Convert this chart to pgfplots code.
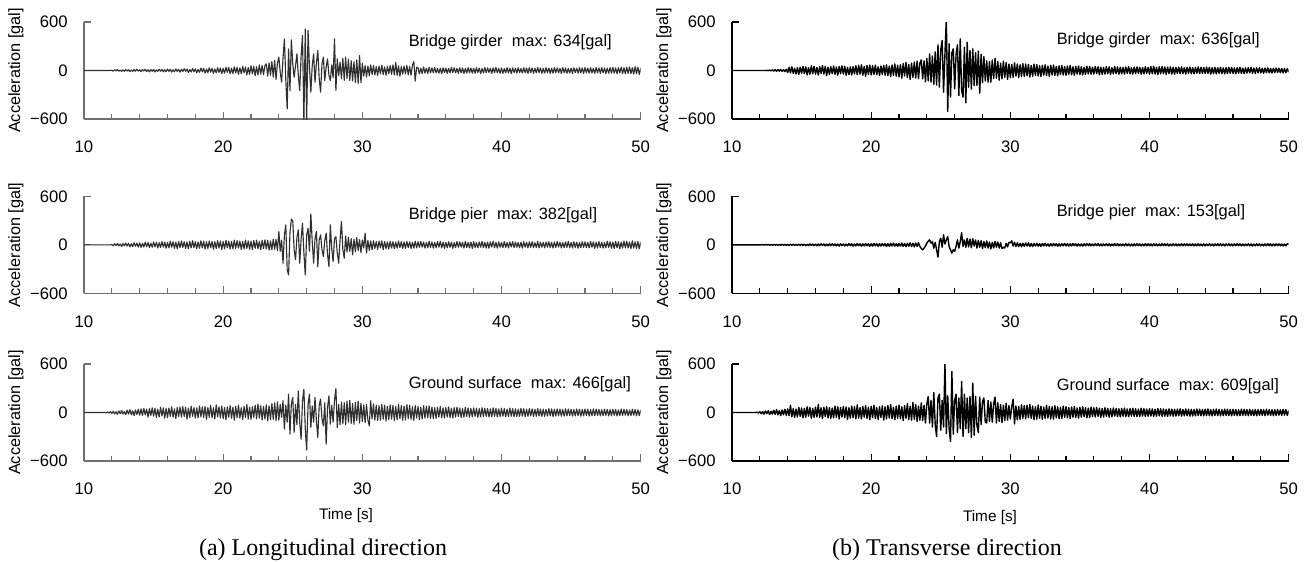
\documentclass[border=0pt]{standalone}
\usepackage{fontspec}
\setmainfont{Liberation Sans}
\newfontfamily\capfont{Liberation Serif}
\usepackage{pgfplots}
\usepackage{pgfplotstable}
\pgfplotsset{compat=1.18}

\definecolor{trL}{HTML}{303030}
\definecolor{axL}{HTML}{707070}

% acceleration records, sampled every 0.1 s from t = 10 s to 50 s
% longitudinal: girder, pier, ground surface
\pgfplotstableread[row sep=\\]{
a\\
0\\0\\0\\0\\0\\0\\0\\0\\0\\0\\
0\\0\\0\\0\\0\\0\\0\\0\\0\\0\\
3\\-8\\10\\-6\\12\\-9\\5\\-12\\8\\-10\\
12\\-7\\9\\-14\\6\\-11\\13\\-9\\15\\-8\\
10\\-15\\12\\-6\\16\\-13\\9\\-17\\11\\-10\\
14\\-18\\8\\-12\\17\\-9\\13\\-16\\10\\-14\\
18\\-11\\15\\-20\\9\\-16\\19\\-12\\14\\-21\\
16\\-13\\22\\-10\\18\\-24\\12\\-19\\25\\-15\\
20\\-28\\14\\-22\\30\\-17\\25\\-31\\19\\-26\\
33\\-21\\27\\-35\\18\\-29\\36\\-24\\31\\-38\\
25\\-33\\40\\-22\\36\\-41\\28\\-37\\45\\-30\\
38\\-47\\33\\-40\\52\\-29\\44\\-55\\36\\-48\\
58\\-42\\50\\-63\\47\\-56\\70\\-45\\61\\-52\\
60\\82\\-70\\95\\-60\\110\\-82\\125\\-110\\90\\
165\\-20\\-144\\150\\392\\-120\\-474\\268\\-247\\379\\
80\\-82\\60\\206\\-60\\-247\\180\\433\\-634\\515\\
-634\\495\\40\\-268\\60\\206\\-144\\90\\247\\-100\\
-268\\80\\165\\-124\\40\\144\\-60\\-124\\70\\-90\\
392\\-247\\144\\-60\\100\\-103\\150\\-120\\165\\-100\\
140\\-124\\120\\-130\\110\\-150\\130\\-160\\185\\-150\\
90\\-70\\60\\-80\\55\\-65\\70\\-50\\62\\-55\\
48\\-60\\55\\-42\\66\\-50\\45\\-58\\52\\-40\\
60\\-48\\70\\-55\\100\\-62\\58\\-70\\50\\-45\\
55\\-40\\62\\-52\\48\\-58\\66\\110\\-130\\40\\
35\\-42\\30\\-38\\44\\-33\\28\\-36\\40\\-30\\
32\\-27\\36\\-30\\25\\-34\\29\\-38\\33\\-26\\
30\\-35\\27\\-31\\38\\-24\\33\\-29\\26\\-36\\
34\\-28\\31\\-37\\24\\-32\\36\\-27\\30\\-33\\
27\\-34\\35\\-26\\30\\-38\\25\\-31\\37\\-29\\
33\\-25\\28\\-35\\32\\-27\\38\\-30\\26\\-34\\
31\\-36\\25\\-29\\35\\-32\\28\\-37\\33\\-26\\
29\\-33\\36\\-27\\24\\-31\\34\\-28\\30\\-35\\
35\\-26\\31\\-34\\27\\-30\\37\\-25\\32\\-36\\
26\\-32\\34\\-29\\30\\-36\\28\\-33\\35\\-27\\
33\\-30\\27\\-35\\36\\-28\\31\\-34\\25\\-31\\
30\\-37\\34\\-26\\28\\-32\\35\\-29\\32\\-36\\
36\\-28\\29\\-33\\34\\-31\\27\\-35\\38\\-30\\
31\\-35\\37\\-29\\33\\-38\\30\\-34\\36\\-32\\
38\\-33\\32\\-40\\36\\-31\\41\\-37\\34\\-42\\
40\\-36\\45\\-38\\35\\-44\\48\\-39\\42\\-50\\
30\\
}\accLgirder

\pgfplotstableread[row sep=\\]{
a\\
0\\0\\0\\0\\0\\0\\0\\0\\0\\0\\
0\\0\\0\\0\\0\\0\\0\\0\\0\\0\\
5\\-12\\15\\-10\\18\\-14\\11\\-20\\16\\-13\\
22\\-15\\18\\-25\\14\\-21\\26\\-17\\20\\-28\\
24\\-30\\19\\-26\\32\\-22\\28\\-35\\21\\-29\\
36\\-25\\30\\-38\\27\\-33\\40\\-28\\34\\-42\\
30\\-37\\45\\-29\\38\\-44\\33\\-48\\41\\-35\\
47\\-32\\39\\-45\\36\\-50\\43\\-38\\52\\-34\\
40\\-47\\35\\-43\\50\\-37\\44\\-52\\38\\-46\\
48\\-36\\42\\-55\\39\\-45\\53\\-40\\47\\-58\\
41\\-50\\56\\-38\\46\\-53\\42\\-48\\58\\-44\\
52\\-40\\47\\-57\\43\\-51\\60\\-45\\49\\-55\\
45\\-60\\53\\-42\\58\\-49\\44\\-62\\55\\-47\\
62\\-50\\57\\-65\\48\\-60\\70\\-55\\66\\-72\\
165\\-80\\60\\-227\\120\\247\\-309\\-371\\150\\317\\
297\\-60\\-185\\90\\185\\-227\\70\\268\\-100\\-371\\
120\\206\\-80\\382\\40\\-227\\80\\165\\-268\\60\\
124\\-60\\-144\\50\\144\\-120\\-268\\247\\-50\\-206\\
80\\100\\-100\\-227\\60\\288\\-60\\-165\\110\\-90\\
95\\-80\\75\\-124\\70\\-85\\90\\-70\\65\\-95\\
60\\-40\\144\\-103\\55\\-70\\48\\-62\\52\\-45\\
40\\-55\\46\\-38\\50\\-60\\42\\-48\\36\\-52\\
44\\-40\\38\\-47\\35\\-42\\48\\-36\\40\\-45\\
36\\-43\\41\\-35\\38\\-46\\33\\-40\\45\\-37\\
38\\-32\\42\\-28\\35\\-40\\30\\-37\\44\\-33\\
36\\-41\\31\\-35\\40\\-29\\45\\-38\\33\\-42\\
30\\-36\\39\\-31\\34\\-44\\28\\-35\\41\\-30\\
37\\-29\\33\\-40\\42\\-34\\30\\-38\\35\\-45\\
40\\-33\\29\\-37\\36\\-30\\43\\-35\\31\\-39\\
34\\-42\\38\\-28\\45\\-36\\32\\-41\\37\\-30\\
29\\-35\\41\\-33\\30\\-38\\36\\-27\\40\\-34\\
35\\-30\\28\\-36\\33\\-41\\38\\-29\\31\\-37\\
36\\-31\\40\\-35\\27\\-32\\42\\-38\\34\\-30\\
30\\-37\\35\\-29\\39\\-34\\31\\-40\\36\\-33\\
41\\-28\\33\\-39\\29\\-35\\37\\-31\\44\\-36\\
32\\-40\\38\\-33\\35\\-42\\30\\-36\\39\\-31\\
37\\-34\\31\\-38\\42\\-30\\36\\-45\\33\\-39\\
40\\-35\\34\\-41\\30\\-37\\45\\-32\\38\\-43\\
35\\-46\\42\\-36\\39\\-48\\33\\-40\\47\\-38\\
44\\-39\\36\\-47\\50\\-41\\38\\-45\\43\\-50\\
35\\
}\accLpier

\pgfplotstableread[row sep=\\]{
a\\
0\\0\\0\\0\\0\\0\\0\\0\\0\\0\\
0\\0\\0\\0\\0\\2\\-5\\8\\-6\\10\\
-12\\15\\-18\\10\\-22\\20\\-14\\25\\-19\\12\\
-26\\30\\-20\\35\\-28\\22\\-38\\31\\-25\\40\\
-33\\45\\-38\\50\\-30\\42\\-55\\48\\-36\\58\\
-45\\52\\-60\\40\\-55\\65\\-42\\58\\-70\\50\\
-62\\55\\-48\\70\\-58\\45\\-75\\63\\-52\\68\\
-57\\72\\-50\\66\\-80\\55\\-62\\78\\-48\\60\\
-70\\58\\-65\\82\\-54\\70\\-60\\75\\-85\\62\\
-58\\88\\-66\\60\\-78\\95\\-55\\72\\-68\\80\\
-75\\62\\-90\\70\\-58\\85\\-72\\66\\-95\\78\\
-64\\92\\-70\\58\\-88\\75\\-62\\98\\-80\\68\\
-85\\72\\-60\\90\\-78\\105\\-70\\84\\-92\\76\\
-80\\95\\-103\\82\\-90\\110\\-85\\120\\-100\\130\\
-95\\100\\-60\\145\\-206\\90\\-120\\227\\-268\\110\\
185\\-247\\100\\-150\\268\\-120\\-330\\150\\288\\-200\\
-466\\100\\227\\-185\\80\\-120\\185\\-100\\-309\\90\\
165\\-80\\-165\\120\\-392\\60\\206\\-144\\90\\-120\\
150\\297\\-185\\100\\-150\\130\\-140\\120\\-150\\140\\
-120\\150\\-135\\110\\-145\\125\\-100\\140\\-130\\115\\
-110\\95\\-125\\100\\-90\\-165\\145\\-80\\105\\-95\\
90\\-100\\85\\-95\\100\\-80\\92\\-105\\78\\-88\\
95\\-82\\88\\-100\\75\\-90\\102\\-78\\85\\-96\\
80\\-92\\98\\-75\\90\\-85\\72\\-98\\88\\-70\\
76\\-88\\65\\-80\\85\\-70\\78\\-66\\82\\-74\\
68\\-75\\60\\-72\\66\\-58\\74\\-65\\58\\-70\\
62\\-55\\70\\-64\\52\\-68\\60\\-56\\66\\-50\\
55\\-62\\48\\-58\\64\\-50\\57\\-60\\50\\-54\\
58\\-48\\52\\-60\\46\\-55\\60\\-50\\54\\-47\\
50\\-56\\44\\-52\\58\\-46\\50\\-55\\45\\-50\\
52\\-45\\48\\-54\\42\\-50\\55\\-46\\48\\-52\\
46\\-50\\40\\-48\\52\\-44\\47\\-51\\42\\-46\\
48\\-42\\45\\-50\\40\\-46\\50\\-43\\44\\-48\\
42\\-47\\38\\-44\\48\\-40\\45\\-49\\40\\-43\\
45\\-40\\42\\-46\\37\\-44\\47\\-41\\43\\-38\\
40\\-45\\36\\-42\\44\\-38\\41\\-46\\38\\-42\\
43\\-37\\40\\-44\\35\\-40\\45\\-39\\42\\-36\\
38\\-42\\34\\-40\\42\\-36\\39\\-43\\36\\-40\\
41\\-35\\38\\-42\\33\\-38\\43\\-37\\40\\-34\\
36\\-40\\32\\-38\\40\\-34\\37\\-41\\34\\-38\\
30\\
}\accLground

% transverse: girder, pier, ground surface
\pgfplotstableread[row sep=\\]{
a\\
0\\0\\0\\0\\0\\0\\0\\0\\0\\0\\
0\\0\\0\\0\\0\\0\\0\\0\\0\\0\\
0\\0\\0\\0\\0\\2\\-4\\6\\-5\\8\\
-7\\10\\-9\\12\\-8\\14\\-11\\9\\-13\\16\\
-25\\38\\-30\\45\\-35\\28\\-42\\36\\-48\\40\\
-33\\50\\-38\\44\\-55\\35\\-46\\58\\-40\\52\\
-45\\38\\-56\\48\\-36\\60\\-44\\52\\-62\\40\\
-50\\46\\-38\\55\\-48\\42\\-58\\50\\-40\\56\\
-44\\52\\-60\\38\\-50\\45\\-55\\48\\-42\\58\\
-52\\65\\-45\\70\\-58\\50\\-72\\62\\-48\\68\\
-55\\60\\-48\\66\\-52\\45\\-62\\56\\-50\\64\\
-58\\70\\-62\\55\\-75\\68\\-60\\82\\-70\\65\\
-80\\72\\-95\\85\\-68\\100\\-88\\75\\-110\\92\\
-85\\105\\-95\\115\\-100\\90\\131\\-103\\120\\-140\\
150\\-130\\206\\-144\\180\\-170\\230\\-180\\317\\-206\\
260\\371\\-268\\200\\636\\-507\\330\\-330\\220\\268\\
-227\\200\\317\\-309\\392\\-250\\-330\\288\\-400\\350\\
-206\\250\\-230\\268\\-185\\220\\-185\\240\\-280\\200\\
-150\\170\\-130\\120\\-144\\110\\-144\\130\\-100\\150\\
-95\\110\\-120\\90\\-105\\115\\-85\\100\\-110\\80\\
-90\\75\\-85\\95\\-70\\80\\-88\\70\\-75\\85\\
-72\\80\\-65\\75\\-80\\62\\-70\\78\\-60\\72\\
-68\\60\\-75\\65\\-58\\70\\-62\\55\\-72\\64\\
-55\\68\\-60\\52\\-66\\58\\-50\\62\\-56\\48\\
-60\\55\\-48\\62\\-52\\45\\-58\\50\\-44\\56\\
-50\\46\\-55\\40\\-48\\52\\-42\\50\\-46\\40\\
-44\\50\\-38\\46\\-52\\42\\-47\\38\\-45\\48\\
-40\\45\\-48\\36\\-42\\50\\-38\\44\\-46\\40\\
-42\\38\\-46\\44\\-36\\48\\-40\\35\\-44\\42\\
-38\\44\\-35\\40\\-45\\36\\-42\\46\\-34\\40\\
-45\\48\\-40\\52\\-44\\38\\-50\\46\\-42\\50\\
-40\\44\\-48\\42\\-38\\46\\-44\\40\\-46\\38\\
-36\\42\\-40\\45\\-38\\35\\-44\\40\\-36\\42\\
-40\\36\\-42\\38\\-34\\44\\-38\\40\\-35\\37\\
-38\\42\\-36\\40\\-44\\35\\-40\\38\\-42\\36\\
-35\\40\\-38\\33\\-42\\36\\-37\\40\\-34\\38\\
-36\\32\\-40\\35\\-33\\38\\-36\\30\\-38\\34\\
-32\\36\\-30\\38\\-34\\30\\-36\\33\\-30\\35\\
-30\\28\\-33\\30\\-27\\32\\-29\\26\\-31\\28\\
-26\\30\\-24\\28\\-27\\25\\-29\\24\\-26\\22\\
-20\\
}\accTgirder

\pgfplotstableread[row sep=\\]{
a\\
0\\0\\0\\0\\0\\0\\0\\0\\0\\0\\
0\\0\\0\\0\\0\\0\\0\\0\\0\\0\\
0\\0\\2\\-3\\4\\-3\\5\\-4\\3\\-5\\
6\\-4\\5\\-7\\4\\-6\\8\\-5\\6\\-7\\
5\\-8\\7\\-6\\9\\-7\\6\\-9\\8\\-6\\
10\\-7\\8\\-11\\7\\-9\\12\\-8\\9\\-10\\
8\\-12\\10\\-9\\13\\-8\\11\\-13\\9\\-11\\
12\\-10\\14\\-9\\11\\-13\\10\\-15\\13\\-9\\
11\\-14\\9\\-12\\15\\-10\\13\\-16\\10\\-13\\
15\\-11\\13\\-17\\12\\-14\\16\\-12\\14\\-18\\
13\\-16\\18\\-12\\15\\-19\\14\\-15\\17\\-13\\
16\\-20\\14\\-17\\19\\-15\\21\\-16\\13\\-19\\
18\\-15\\22\\-19\\16\\-23\\20\\-17\\24\\-20\\
19\\-25\\22\\-18\\26\\-20\\-45\\-62\\-40\\-15\\
20\\45\\62\\20\\40\\-41\\30\\-60\\-153\\40\\
82\\-30\\124\\10\\60\\103\\-20\\-62\\-103\\-60\\
-80\\-20\\62\\-40\\40\\150\\-20\\60\\-30\\80\\
-25\\70\\-35\\75\\-15\\60\\-40\\55\\-30\\50\\
-45\\40\\-35\\48\\-40\\35\\-50\\30\\-38\\42\\
-30\\35\\-40\\25\\-45\\-30\\-40\\20\\-25\\30\\
25\\50\\-15\\30\\-20\\25\\-22\\18\\-25\\20\\
-18\\22\\-15\\25\\-20\\16\\-22\\18\\-14\\20\\
-16\\14\\-20\\17\\-13\\19\\-15\\12\\-18\\15\\
-14\\17\\-12\\15\\-18\\13\\-16\\14\\-12\\16\\
-13\\15\\-17\\12\\-14\\16\\-11\\14\\-15\\12\\
-14\\11\\-16\\13\\-12\\15\\-10\\14\\-13\\11\\
-12\\14\\-10\\15\\-13\\11\\-14\\12\\-10\\13\\
-11\\13\\-14\\10\\-12\\15\\-11\\13\\-12\\10\\
-13\\10\\-12\\14\\-11\\12\\-15\\10\\-13\\12\\
-10\\13\\-11\\12\\-14\\10\\-12\\15\\-11\\13\\
-12\\11\\-14\\13\\-10\\12\\-13\\11\\-12\\14\\
-11\\13\\-10\\12\\-14\\11\\-12\\13\\-10\\12\\
-13\\10\\-12\\14\\-11\\12\\-10\\13\\-12\\11\\
-10\\12\\-13\\11\\-12\\14\\-11\\10\\-13\\12\\
-12\\11\\-10\\13\\-12\\10\\-14\\12\\-11\\13\\
-11\\14\\-12\\10\\-13\\12\\-10\\14\\-12\\11\\
-13\\12\\-11\\14\\-10\\12\\-13\\11\\-12\\10\\
-10\\13\\-12\\11\\-14\\10\\-12\\13\\-11\\12\\
-12\\10\\-13\\12\\-11\\14\\-10\\12\\-13\\11\\
-11\\13\\-10\\12\\-12\\11\\-13\\10\\-12\\12\\
10\\
}\accTpier

\pgfplotstableread[row sep=\\]{
a\\
0\\0\\0\\0\\0\\0\\0\\0\\0\\0\\
0\\0\\0\\0\\0\\0\\0\\0\\3\\-6\\
10\\-15\\12\\-20\\18\\-14\\22\\-25\\16\\-20\\
28\\-22\\35\\-30\\25\\-38\\32\\-28\\40\\-35\\
45\\-38\\90\\-52\\48\\-60\\42\\-55\\62\\-48\\
55\\-65\\50\\-58\\70\\-45\\62\\-72\\52\\-60\\
68\\-55\\100\\-62\\58\\-75\\65\\-50\\72\\-68\\
60\\-72\\55\\-66\\78\\-58\\70\\-80\\62\\-55\\
75\\-62\\68\\-85\\58\\-70\\80\\-65\\72\\-78\\
95\\-70\\62\\-80\\75\\-58\\85\\-72\\66\\-88\\
78\\-65\\90\\-75\\60\\-85\\70\\-62\\82\\-95\\
70\\-80\\88\\-68\\98\\-75\\65\\-90\\80\\-72\\
92\\-78\\70\\-100\\85\\-72\\110\\-88\\76\\-95\\
125\\-85\\100\\-110\\80\\-95\\120\\-100\\90\\-130\\
110\\198\\-131\\150\\-180\\247\\-150\\-297\\180\\227\\
-220\\150\\-180\\609\\-260\\206\\-200\\-359\\507\\-268\\
150\\227\\-247\\180\\-200\\383\\-297\\227\\-200\\180\\
-250\\200\\-309\\363\\-280\\200\\-160\\-247\\190\\-150\\
140\\180\\-120\\-130\\150\\-110\\130\\-120\\110\\190\\
-130\\120\\-110\\100\\-125\\90\\-100\\115\\-95\\85\\
-80\\70\\165\\-140\\80\\-90\\75\\-85\\95\\-70\\
85\\-78\\90\\-65\\100\\-72\\80\\-88\\70\\-82\\
92\\-70\\78\\-85\\66\\-75\\88\\-68\\75\\-80\\
70\\-82\\85\\-66\\72\\-78\\64\\-74\\80\\-60\\
72\\-65\\60\\-75\\68\\-58\\74\\-62\\55\\-70\\
65\\-58\\70\\-52\\60\\-66\\55\\-62\\68\\-50\\
58\\-55\\62\\-48\\54\\-60\\50\\-56\\60\\-46\\
52\\-58\\48\\-54\\56\\-45\\50\\-52\\46\\-55\\
50\\-46\\55\\-50\\44\\-52\\48\\-45\\53\\-48\\
46\\-50\\42\\-48\\52\\-44\\47\\-50\\43\\-46\\
48\\-44\\45\\-50\\40\\-46\\50\\-42\\46\\-48\\
44\\-46\\40\\-48\\46\\-42\\43\\-45\\40\\-44\\
42\\-40\\46\\-44\\38\\-42\\44\\-40\\41\\-45\\
40\\-43\\37\\-41\\44\\-38\\42\\-40\\38\\-42\\
41\\-38\\44\\-40\\36\\-42\\40\\-37\\43\\-39\\
38\\-41\\35\\-39\\42\\-36\\40\\-38\\37\\-41\\
40\\-36\\37\\-40\\34\\-38\\41\\-35\\38\\-37\\
36\\-39\\40\\-35\\33\\-38\\37\\-40\\35\\-36\\
38\\-34\\35\\-38\\41\\-33\\36\\-37\\34\\-39\\
35\\-37\\38\\-32\\34\\-36\\39\\-33\\36\\-35\\
25\\
}\accTground

\pgfplotsset{
  accpanel/.style={
    scale only axis, width=417.5pt, height=72.75pt,
    anchor=south west,
    xmin=10, xmax=50, ymin=-600, ymax=600,
    axis x line*=bottom, axis y line*=left,
    axis line style={-, line width=0.9pt},
    xtick={10,20,30,40,50}, xticklabels={10,20,30,40,50},
    minor xtick={12,14,...,48},
    ytick={-600,0,600}, yticklabels={−600,0,600},
    tick align=inside,
    major tick length=5.25pt, minor tick length=3.75pt,
    every tick/.style={line width=0.8pt},
    tick label style={font=\fontsize{12.5}{14}\selectfont},
    xticklabel style={anchor=center, inner sep=0pt, yshift=-21pt},
    yticklabel style={anchor=east, inner sep=0pt, xshift=-12pt},
    ylabel={Acceleration [gal]},
    ylabel style={at={([xshift=-51pt]axis description cs:0,0.5)},
      anchor=center, font=\fontsize{12.2}{13}\selectfont},
  },
  colL/.style={axis line style={draw=axL}, every tick/.append style={draw=axL}},
  colR/.style={axis line style={draw=black}, every tick/.append style={draw=black}},
  traceL/.style={color=trL, line width=0.85pt, line join=round},
  traceR/.style={color=black, line width=1.05pt, line join=round},
}
\tikzset{note/.style={anchor=west, font=\fontsize{12.3}{14}\selectfont}}

\begin{document}
\begin{tikzpicture}
\path[use as bounding box] (0,0) rectangle (981pt,-420.75pt);

% (a) longitudinal direction
\begin{axis}[accpanel, colL, at={(63pt,-89.25pt)}]
\addplot[traceL] table[x expr=10+0.1*\coordindex, y=a] {\accLgirder};
\node[note] at (axis cs:33,350) {Bridge girder\ \ max: 634[gal]};
\end{axis}

\begin{axis}[accpanel, colL, at={(63pt,-220pt)}]
\addplot[traceL] table[x expr=10+0.1*\coordindex, y=a] {\accLpier};
\node[note] at (axis cs:33,370) {Bridge pier\ \ max: 382[gal]};
\end{axis}

\begin{axis}[accpanel, colL, at={(63pt,-345.75pt)}]
\addplot[traceL] table[x expr=10+0.1*\coordindex, y=a] {\accLground};
\node[note] at (axis cs:33,350) {Ground surface\ \ max: 466[gal]};
\end{axis}

% (b) transverse direction
\begin{axis}[accpanel, colR, at={(549pt,-89.25pt)}]
\addplot[traceR] table[x expr=10+0.1*\coordindex, y=a] {\accTgirder};
\node[note] at (axis cs:33,380) {Bridge girder\ \ max: 636[gal]};
\end{axis}

\begin{axis}[accpanel, colR, at={(549pt,-220pt)}]
\addplot[traceR] table[x expr=10+0.1*\coordindex, y=a] {\accTpier};
\node[note] at (axis cs:33,400) {Bridge pier\ \ max: 153[gal]};
\end{axis}

\begin{axis}[accpanel, colR, at={(549pt,-345.75pt)}]
\addplot[traceR] table[x expr=10+0.1*\coordindex, y=a] {\accTground};
\node[note] at (axis cs:33,322) {Ground surface\ \ max: 609[gal]};
\end{axis}

\node[font=\fontsize{11.5}{13}\selectfont] at (259.5pt,-387pt) {Time [s]};
\node[font=\fontsize{11.5}{13}\selectfont] at (742.5pt,-388pt) {Time [s]};
\node[font=\capfont\fontsize{18}{20}\selectfont] at (242.25pt,-412.5pt) {(a) Longitudinal direction};
\node[font=\capfont\fontsize{18}{20}\selectfont] at (710.25pt,-412.5pt) {(b) Transverse direction};
\end{tikzpicture}
\end{document}
